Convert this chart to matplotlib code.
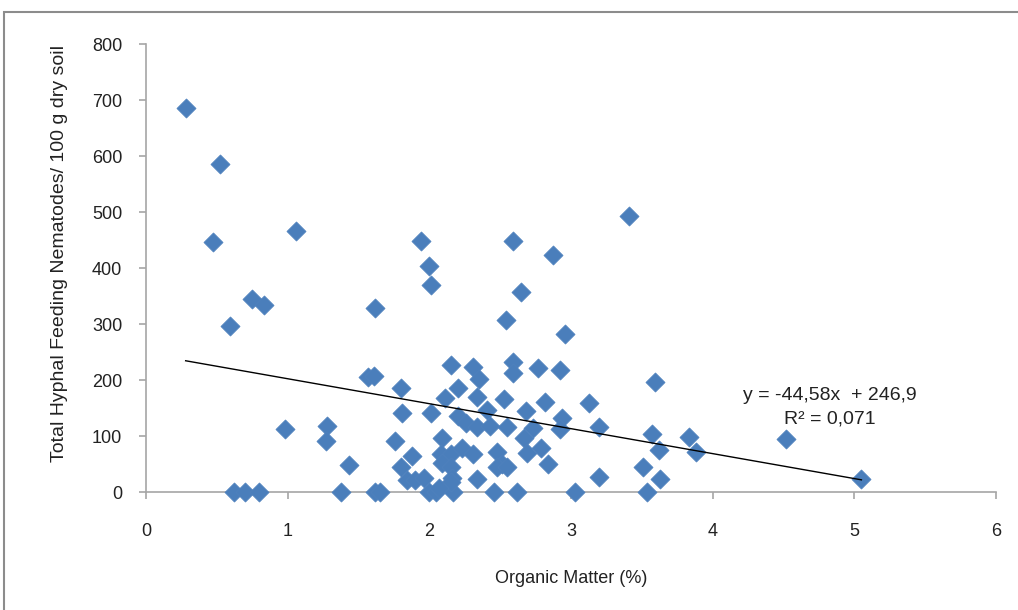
import matplotlib
matplotlib.use("Agg")
import matplotlib.pyplot as plt
from matplotlib.patches import Rectangle
import numpy as np

# organic matter (%) and total hyphal feeding nematodes per 100 g dry soil
organic_matter = [
    0.28, 0.52, 0.47, 0.59, 1.06, 0.75, 0.83, 0.98, 1.28, 1.27,
    1.43, 0.62, 0.70, 0.80, 1.38, 1.62, 1.65, 1.62, 1.57, 1.61,
    1.80, 1.81, 1.76, 1.88, 1.80, 1.84, 1.90, 1.96, 2.00, 2.05,
    1.94, 2.00, 2.01, 2.59, 2.87, 3.41, 2.65, 2.54, 2.96, 2.15,
    2.31, 2.35, 2.59, 2.59, 2.77, 2.92, 3.59, 2.20, 2.11, 2.34,
    2.53, 2.82, 3.13, 2.01, 2.20, 2.26, 2.34, 2.41, 2.43, 2.55,
    2.68, 2.73, 2.94, 2.92, 3.20, 3.57, 3.83, 3.62, 3.88, 2.09,
    2.08, 2.15, 2.23, 2.31, 2.48, 2.51, 2.67, 2.69, 2.79, 2.84,
    3.20, 3.51, 3.63, 2.09, 2.15, 2.16, 2.34, 2.48, 2.55, 2.17,
    2.46, 2.62, 3.03, 3.54, 4.52, 5.05, 2.15, 2.07,
]
nematodes = [
    686, 585, 447, 297, 466, 345, 334, 112, 118, 92,
    48, 0, 0, 0, 0, 0, 0, 329, 205, 207,
    186, 141, 92, 64, 45, 22, 22, 25, 0, 0,
    448, 403, 370, 448, 423, 493, 357, 307, 282, 227,
    223, 202, 233, 213, 222, 218, 196, 186, 168, 170,
    166, 161, 159, 141, 136, 124, 117, 146, 118, 116,
    145, 114, 132, 112, 116, 103, 98, 75, 72, 96,
    68, 68, 79, 68, 72, 50, 96, 70, 79, 50,
    27, 45, 24, 52, 45, 25, 24, 45, 45, 0,
    0, 0, 0, 0, 95, 24, 18, 7,
]

slope = -44.58
intercept = 246.9
r2 = 0.071

plt.rcParams['font.family'] = ['Liberation Sans', 'DejaVu Sans']

fig = plt.figure(figsize=(10.18, 6.10), dpi=100)
fig.patches.append(Rectangle((0.004, -0.1), 1.2, 1.08, transform=fig.transFigure,
                             fill=False, edgecolor='#8c8c8c', linewidth=1.5))
ax = fig.add_axes([0.1434, 0.1934, 0.835, 0.7344])

ax.scatter(organic_matter, nematodes, marker='D', s=95, color='#4A7EBB',
           edgecolors='#4F81BD', linewidths=0.5, zorder=3, clip_on=False)

xs = np.array([min(organic_matter), max(organic_matter)])
ax.plot(xs, slope * xs + intercept, color='black', linewidth=1.0, zorder=4)

ax.text(4.83, 172, "y = -44,58x  + 246,9", ha='center', va='center', fontsize=14, color='#222222')
ax.text(4.83, 130, "R² = 0,071", ha='center', va='center', fontsize=14, color='#222222')

ax.set_xlim(0, 6)
ax.set_ylim(0, 800)
ax.set_xticks(range(0, 7))
ax.set_yticks(range(0, 801, 100))
for s in ['top', 'right']:
    ax.spines[s].set_visible(False)
for s in ['left', 'bottom']:
    ax.spines[s].set_color('#a6a6a6')
    ax.spines[s].set_linewidth(1.2)
ax.tick_params(axis='both', colors='#a6a6a6', length=5, width=1.2, labelcolor='#222222', labelsize=13)
ax.tick_params(axis='x', pad=17)
ax.tick_params(axis='y', pad=12)

ax.set_xlabel("Organic Matter (%)", fontsize=13, color='#222222', labelpad=22)
ax.set_ylabel("Total Hyphal Feeding Nematodes/ 100 g dry soil", fontsize=14, color='#222222')
ax.yaxis.set_label_coords(-0.092, 0.533)

fig.savefig("out.png", dpi=100)
